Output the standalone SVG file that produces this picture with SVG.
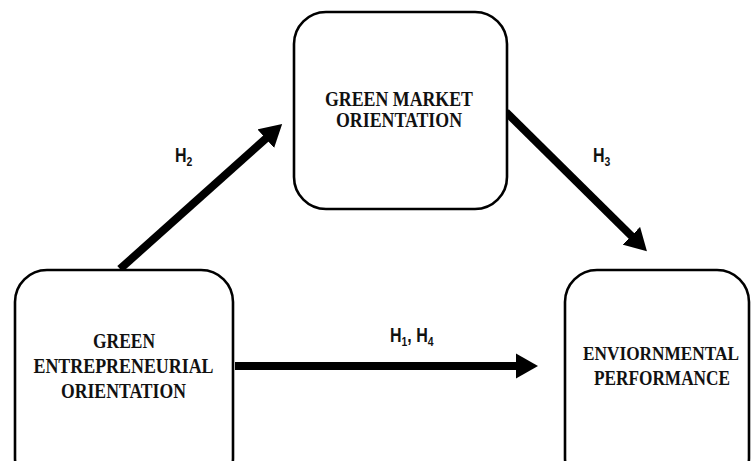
<svg xmlns="http://www.w3.org/2000/svg" width="752" height="461" viewBox="0 0 752 461">
<style>
.box{fill:#fff;stroke:#000;stroke-width:2.6}
.t{font-family:"Liberation Serif","Times New Roman",serif;font-weight:bold;font-size:20px;fill:#111;text-anchor:middle}
.h{font-family:"Liberation Sans",Arial,sans-serif;font-weight:bold;font-size:20px;fill:#111}
.s{font-size:13px}
.c{stroke:#000;stroke-width:8;fill:none;marker-end:url(#ah)}
</style>
<defs>
<marker id="ah" markerUnits="userSpaceOnUse" viewBox="0 -13 23 26" markerWidth="23" markerHeight="26" refX="1" refY="0" orient="auto">
<path d="M0,-12.5 L22,0 L0,12.5 z" fill="#000"/>
</marker>
</defs>
<rect width="752" height="461" fill="#fff"/>
<g id="connectors">
<line class="c" x1="235" y1="366" x2="517" y2="366"/>
<line class="c" x1="120" y1="269" x2="266.5" y2="138"/>
<line class="c" x1="506" y1="112" x2="632" y2="236.5"/>
</g>
<g id="gmo">
<rect class="box" x="294" y="12" width="213" height="197" rx="32"/>
<text class="t" x="399" y="106" textLength="148" lengthAdjust="spacingAndGlyphs">GREEN MARKET</text>
<text class="t" x="399" y="127" textLength="126" lengthAdjust="spacingAndGlyphs">ORIENTATION</text>
</g>
<g id="geo">
<rect class="box" x="15" y="270" width="218" height="220" rx="32"/>
<text class="t" x="124" y="348" textLength="62" lengthAdjust="spacingAndGlyphs">GREEN</text>
<text class="t" x="123.5" y="373" textLength="180" lengthAdjust="spacingAndGlyphs">ENTREPRENEURIAL</text>
<text class="t" x="123.5" y="398" textLength="125" lengthAdjust="spacingAndGlyphs">ORIENTATION</text>
</g>
<g id="ep">
<rect class="box" x="565" y="270" width="184" height="220" rx="32"/>
<text class="t" x="661" y="360" style="font-size:18.5px" textLength="156" lengthAdjust="spacingAndGlyphs">ENVIORNMENTAL</text>
<text class="t" x="662" y="385" textLength="136" lengthAdjust="spacingAndGlyphs">PERFORMANCE</text>
</g>
<g id="labels">
<text class="h" transform="translate(175,162) scale(0.8,1)">H<tspan class="s" dy="4">2</tspan></text>
<text class="h" transform="translate(593,162) scale(0.8,1)">H<tspan class="s" dy="4">3</tspan></text>
<text class="h" transform="translate(390,342) scale(0.8,1)">H<tspan class="s" dy="4">1</tspan><tspan dy="-4">, H</tspan><tspan class="s" dy="4">4</tspan></text>
</g>
</svg>
